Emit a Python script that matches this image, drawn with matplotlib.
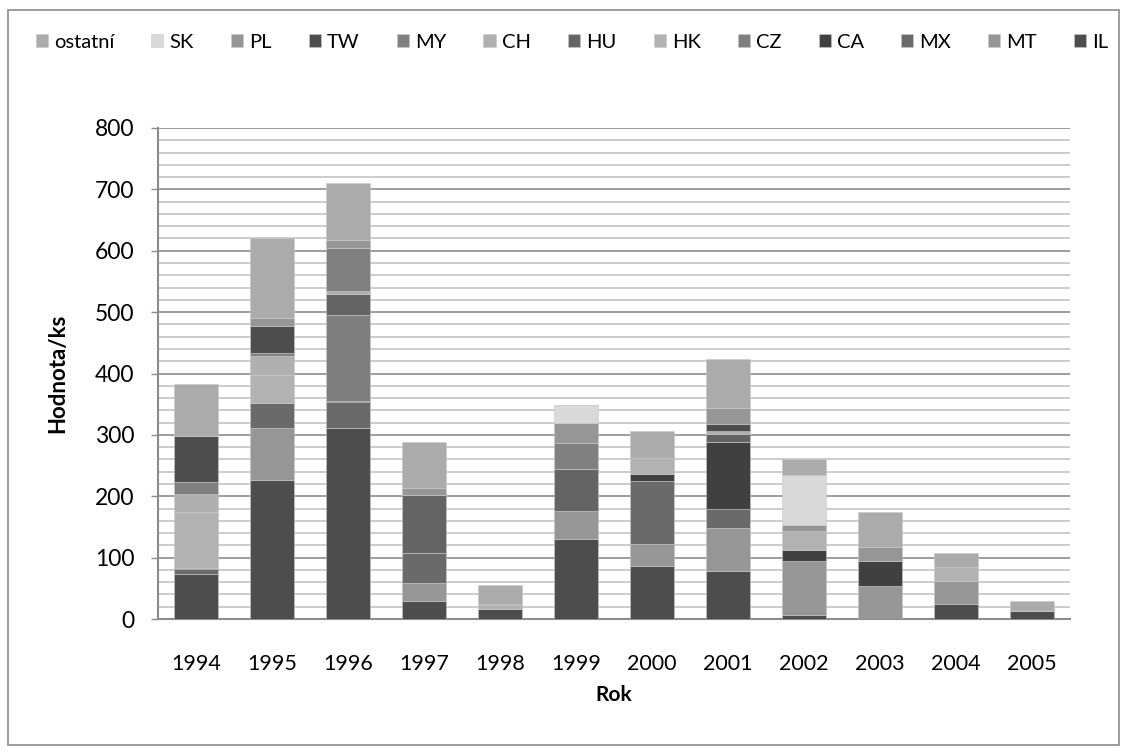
import matplotlib
matplotlib.use("Agg")
import matplotlib.pyplot as plt
import numpy as np
from matplotlib.patches import Rectangle

plt.rcParams['font.family'] = ['Lato', 'DejaVu Sans']

years = ['1994', '1995', '1996', '1997', '1998', '1999', '2000', '2001', '2002', '2003', '2004', '2005']

IL  = [74, 226, 312, 29, 16, 130, 87, 79, 6, 0, 25, 13]
MT  = [0, 86, 0, 29, 0, 46, 36, 70, 88, 54, 37, 0]
MX  = [7, 40, 42, 49, 0, 0, 102, 31, 0, 0, 0, 0]
CA  = [2, 0, 2, 0, 0, 0, 11, 109, 19, 40, 0, 0]
CZ  = [0, 0, 140, 0, 0, 0, 0, 0, 0, 0, 0, 0]
HK  = [91, 45, 0, 0, 7, 0, 27, 0, 30, 0, 22, 0]
HU  = [0, 0, 33, 95, 0, 69, 0, 12, 0, 0, 0, 0]
CH  = [29, 32, 6, 0, 0, 0, 0, 6, 0, 0, 0, 0]
MY  = [21, 5, 70, 0, 0, 41, 0, 0, 0, 0, 0, 0]
TW  = [74, 44, 0, 0, 0, 0, 0, 10, 0, 0, 0, 0]
PL  = [0, 13, 12, 11, 2, 33, 0, 26, 10, 24, 0, 0]
SK  = [0, 0, 0, 0, 0, 29, 0, 0, 81, 0, 0, 0]
OST = [85, 129, 94, 76, 31, 0, 43, 80, 26, 56, 23, 16]

series = [
    ('IL', IL, '#4d4d4d'),
    ('MT', MT, '#969696'),
    ('MX', MX, '#6a6a6a'),
    ('CA', CA, '#404040'),
    ('CZ', CZ, '#7f7f7f'),
    ('HK', HK, '#b2b2b2'),
    ('HU', HU, '#646464'),
    ('CH', CH, '#b0b0b0'),
    ('MY', MY, '#808080'),
    ('TW', TW, '#4d4d4d'),
    ('PL', PL, '#969696'),
    ('SK', SK, '#d9d9d9'),
    ('ostatní', OST, '#ababab'),
]

fig = plt.figure(figsize=(11.27, 7.53), dpi=100)
ax = fig.add_axes([158/1127, 1 - 619/753, (1070-158)/1127, (619-128)/753])

x = np.arange(len(years))
bottom = np.zeros(len(years))
handles = []
for name, vals, col in series:
    v = np.array(vals, dtype=float)
    b = ax.bar(x, v, 0.58, bottom=bottom, color=col, edgecolor='#c8c8c8', linewidth=0.4, label=name, zorder=3)
    handles.append(b)
    bottom += v

ax.set_xlim(-0.5, len(years) - 0.5)
ax.set_ylim(0, 800)
ax.set_yticks(np.arange(0, 801, 100))
ax.set_yticks(np.arange(0, 801, 20), minor=True)
ax.grid(axis='y', which='major', color='#8c8c8c', linewidth=1.2, zorder=0)
ax.grid(axis='y', which='minor', color='#c4c4c4', linewidth=1.2, zorder=0)
ax.set_xticks(x)
ax.set_xticklabels(years)
ax.tick_params(axis='x', length=0, labelsize=15.5, pad=25, colors='black')
ax.tick_params(axis='y', which='major', length=5, width=1, color='#8c8c8c', labelsize=16.5, pad=12)
ax.tick_params(axis='y', which='minor', length=0)
for s in ['top', 'right']:
    ax.spines[s].set_visible(False)
for s in ['left', 'bottom']:
    ax.spines[s].set_color('#8c8c8c')
    ax.spines[s].set_linewidth(1.5)

ax.set_ylabel('Hodnota/ks', fontsize=16, fontweight='bold', labelpad=19)
ax.set_xlabel('Rok', fontsize=15, fontweight='bold', labelpad=8)

leg = fig.legend(handles[::-1], [s[0] for s in series][::-1], ncol=13, loc='center',
                 bbox_to_anchor=(572/1127, 1 - 42/753), frameon=False, fontsize=14.5,
                 handlelength=0.6, handleheight=0.6, handletextpad=0.3, columnspacing=1.85,
                 borderpad=0, borderaxespad=0)

fig.patches.append(Rectangle((8/1127, 1 - 745/753), 1111/1127, 735/753, transform=fig.transFigure,
                             fill=False, edgecolor='#8c8c8c', linewidth=1.2))

fig.savefig('out.png', dpi=100)
